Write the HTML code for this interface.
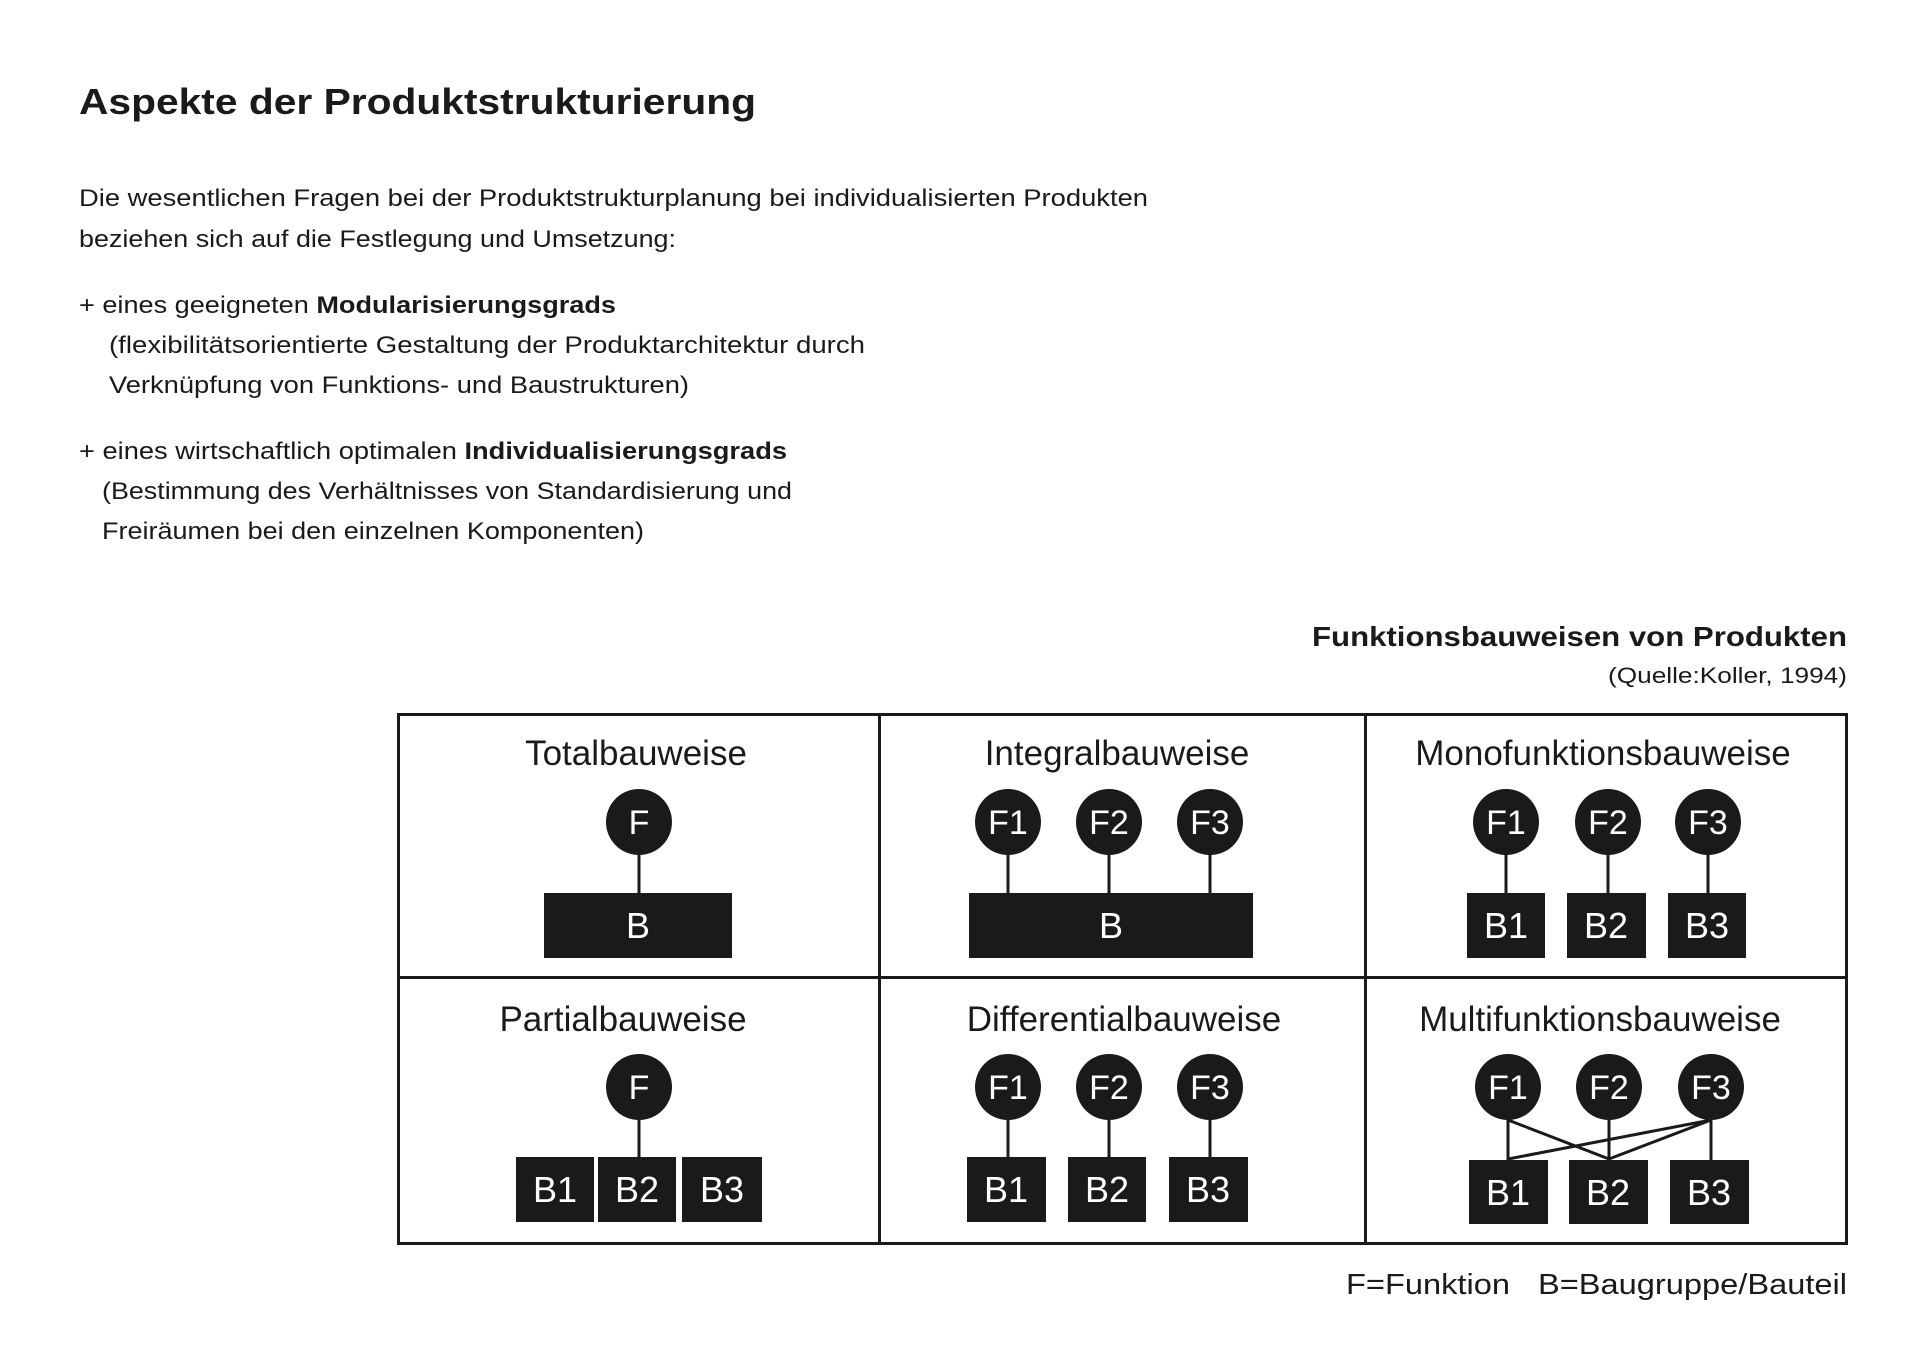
<!DOCTYPE html>
<html><head><meta charset="utf-8"><style>
html,body{margin:0;padding:0;background:#fff;}
svg{display:block;}
text{font-family:"Liberation Sans",sans-serif;fill:#1a1a1a;}
.w{fill:#fff;}
</style></head><body>
<svg width="1920" height="1357" viewBox="0 0 1920 1357" xmlns="http://www.w3.org/2000/svg">
<text x="79" y="114" font-size="36" font-weight="bold" textLength="677" lengthAdjust="spacingAndGlyphs">Aspekte der Produktstrukturierung</text>
<g font-size="24">
<text x="79" y="206" textLength="1069" lengthAdjust="spacingAndGlyphs">Die wesentlichen Fragen bei der Produktstrukturplanung bei individualisierten Produkten</text>
<text x="79" y="247" textLength="597" lengthAdjust="spacingAndGlyphs">beziehen sich auf die Festlegung und Umsetzung:</text>
<text x="79" y="313" textLength="537" lengthAdjust="spacingAndGlyphs">+ eines geeigneten <tspan font-weight="bold">Modularisierungsgrads</tspan></text>
<text x="109" y="353" textLength="756" lengthAdjust="spacingAndGlyphs">(flexibilitätsorientierte Gestaltung der Produktarchitektur durch</text>
<text x="109" y="393" textLength="580" lengthAdjust="spacingAndGlyphs">Verknüpfung von Funktions- und Baustrukturen)</text>
<text x="79" y="459" textLength="708" lengthAdjust="spacingAndGlyphs">+ eines wirtschaftlich optimalen <tspan font-weight="bold">Individualisierungsgrads</tspan></text>
<text x="102" y="499" textLength="690" lengthAdjust="spacingAndGlyphs">(Bestimmung des Verhältnisses von Standardisierung und</text>
<text x="102" y="539" textLength="542" lengthAdjust="spacingAndGlyphs">Freiräumen bei den einzelnen Komponenten)</text>
</g>
<text x="1312" y="646" font-size="28" font-weight="bold" textLength="535" lengthAdjust="spacingAndGlyphs">Funktionsbauweisen von Produkten</text>
<text x="1608" y="683" font-size="22" textLength="239" lengthAdjust="spacingAndGlyphs">(Quelle:Koller, 1994)</text>
<text x="1346" y="1294" font-size="29" textLength="164" lengthAdjust="spacingAndGlyphs">F=Funktion</text>
<text x="1538" y="1294" font-size="29" textLength="309" lengthAdjust="spacingAndGlyphs">B=Baugruppe/Bauteil</text>

<g stroke="#1a1a1a" stroke-width="3" fill="none">
<rect x="398.5" y="714.5" width="1448" height="529"/>
<line x1="879.5" y1="714" x2="879.5" y2="1244"/>
<line x1="1365.5" y1="714" x2="1365.5" y2="1244"/>
<line x1="398" y1="977.5" x2="1847" y2="977.5"/>
</g>
<g font-size="35" text-anchor="middle">
<text x="636" y="765">Totalbauweise</text>
<text x="1117" y="765">Integralbauweise</text>
<text x="1603" y="765">Monofunktionsbauweise</text>
<text x="623" y="1031">Partialbauweise</text>
<text x="1124" y="1031">Differentialbauweise</text>
<text x="1600" y="1031">Multifunktionsbauweise</text>
</g>
<g stroke="#1a1a1a" stroke-width="3">
<line x1="639" y1="822" x2="639" y2="893"/>
<line x1="1008" y1="822" x2="1008" y2="893"/>
<line x1="1109" y1="822" x2="1109" y2="893"/>
<line x1="1210" y1="822" x2="1210" y2="893"/>
<line x1="1506" y1="822" x2="1506" y2="893"/>
<line x1="1608" y1="822" x2="1608" y2="893"/>
<line x1="1708" y1="822" x2="1708" y2="893"/>
<line x1="639" y1="1087" x2="639" y2="1157"/>
<line x1="1008" y1="1087" x2="1008" y2="1157"/>
<line x1="1109" y1="1087" x2="1109" y2="1157"/>
<line x1="1210" y1="1087" x2="1210" y2="1157"/>
<line x1="1508" y1="1087" x2="1508" y2="1160"/>
<line x1="1609" y1="1087" x2="1609" y2="1160"/>
<line x1="1711" y1="1087" x2="1711" y2="1160"/>
<line x1="1508" y1="1120" x2="1609" y2="1159"/>
<line x1="1711" y1="1120" x2="1508" y2="1159"/>
<line x1="1711" y1="1120" x2="1609" y2="1159"/>
</g>
<g fill="#1a1a1a">
<circle cx="639" cy="822" r="33"/>
<circle cx="1008" cy="822" r="33"/><circle cx="1109" cy="822" r="33"/><circle cx="1210" cy="822" r="33"/>
<circle cx="1506" cy="822" r="33"/><circle cx="1608" cy="822" r="33"/><circle cx="1708" cy="822" r="33"/>
<circle cx="639" cy="1087" r="33"/>
<circle cx="1008" cy="1087" r="33"/><circle cx="1109" cy="1087" r="33"/><circle cx="1210" cy="1087" r="33"/>
<circle cx="1508" cy="1087" r="33"/><circle cx="1609" cy="1087" r="33"/><circle cx="1711" cy="1087" r="33"/>
<rect x="544" y="893" width="188" height="65"/>
<rect x="969" y="893" width="284" height="65"/>
<rect x="1467" y="893" width="78" height="65"/><rect x="1567" y="893" width="79" height="65"/><rect x="1668" y="893" width="78" height="65"/>
<rect x="516" y="1157" width="78" height="65"/><rect x="598" y="1157" width="78" height="65"/><rect x="682" y="1157" width="80" height="65"/>
<rect x="967" y="1157" width="79" height="65"/><rect x="1068" y="1157" width="78" height="65"/><rect x="1169" y="1157" width="79" height="65"/>
<rect x="1469" y="1160" width="79" height="64"/><rect x="1569" y="1160" width="79" height="64"/><rect x="1670" y="1160" width="79" height="64"/>
</g>
<g font-size="34" text-anchor="middle">
<text class="w" x="639" y="834">F</text>
<text class="w" x="1008" y="834">F1</text><text class="w" x="1109" y="834">F2</text><text class="w" x="1210" y="834">F3</text>
<text class="w" x="1506" y="834">F1</text><text class="w" x="1608" y="834">F2</text><text class="w" x="1708" y="834">F3</text>
<text class="w" x="639" y="1099">F</text>
<text class="w" x="1008" y="1099">F1</text><text class="w" x="1109" y="1099">F2</text><text class="w" x="1210" y="1099">F3</text>
<text class="w" x="1508" y="1099">F1</text><text class="w" x="1609" y="1099">F2</text><text class="w" x="1711" y="1099">F3</text>
</g>
<g font-size="36" text-anchor="middle">
<text class="w" x="638" y="938">B</text>
<text class="w" x="1111" y="938">B</text>
<text class="w" x="1506" y="938">B1</text><text class="w" x="1606" y="938">B2</text><text class="w" x="1707" y="938">B3</text>
<text class="w" x="555" y="1202">B1</text><text class="w" x="637" y="1202">B2</text><text class="w" x="722" y="1202">B3</text>
<text class="w" x="1006" y="1202">B1</text><text class="w" x="1107" y="1202">B2</text><text class="w" x="1208" y="1202">B3</text>
<text class="w" x="1508" y="1205">B1</text><text class="w" x="1608" y="1205">B2</text><text class="w" x="1709" y="1205">B3</text>
</g>
</svg>
</body></html>
